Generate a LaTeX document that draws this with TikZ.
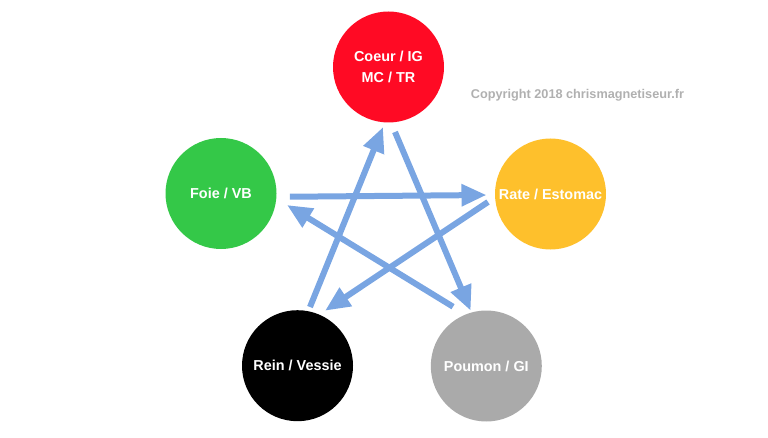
\documentclass[tikz,border=0pt]{standalone}
\usepackage{fontspec}
\setmainfont{Liberation Sans}
\usepackage{tikz}
\usetikzlibrary{arrows.meta,calc}

\definecolor{rouge}{RGB}{255,10,36}
\definecolor{vert}{RGB}{52,200,72}
\definecolor{jaune}{RGB}{254,192,44}
\definecolor{gris}{RGB}{170,170,170}
\definecolor{bleu}{RGB}{121,165,226}
\definecolor{copy}{RGB}{176,176,176}

\begin{document}
\begin{tikzpicture}[x=1pt,y=1pt,
	organe/.style={circle,minimum size=111pt,inner sep=0pt,text=white,
		font=\fontsize{14.4}{21}\selectfont\bfseries,align=center},
	fleche/.style={-{Triangle[length=25pt,width=21pt]},line width=6pt,color=bleu}]
	\useasboundingbox (0,0) rectangle (768,437);
	\node[organe,fill=rouge] at (388.5,370) (coeur) {Coeur / IG\\MC / TR};
	\node[organe,fill=vert] at (221,243.5) (foie) {Foie / VB};
	\node[organe,fill=jaune] at (550.5,243) (rate) {Rate / Estomac};
	\node[organe,fill=black] at (297.5,71.3) (rein) {Rein / Vessie};
	\node[organe,fill=gris] at (486.3,71) (poumon) {Poumon / GI};
	\node[anchor=base west,text=copy,font=\fontsize{12.7}{15}\selectfont\bfseries,inner sep=0pt]
		at (470.7,338) (copyright) {Copyright 2018 chrismagnetiseur.fr};
	\draw[fleche] ($(foie)+(357.3:69pt)$) -- ($(rate)+(180.9:64pt)$);
	\draw[fleche] ($(rate)+(187.3:63pt)$) -- ($(rein)+(63.4:61.5pt)$);
	\draw[fleche] ($(rein)+(78:60pt)$) -- ($(coeur)+(264.8:60.3pt)$);
	\draw[fleche] ($(coeur)+(275.7:65.3pt)$) -- ($(poumon)+(105.8:57.5pt)$);
	\draw[fleche] ($(poumon)+(119.3:68pt)$) -- ($(foie)+(350.1:67pt)$);
\end{tikzpicture}
\end{document}
